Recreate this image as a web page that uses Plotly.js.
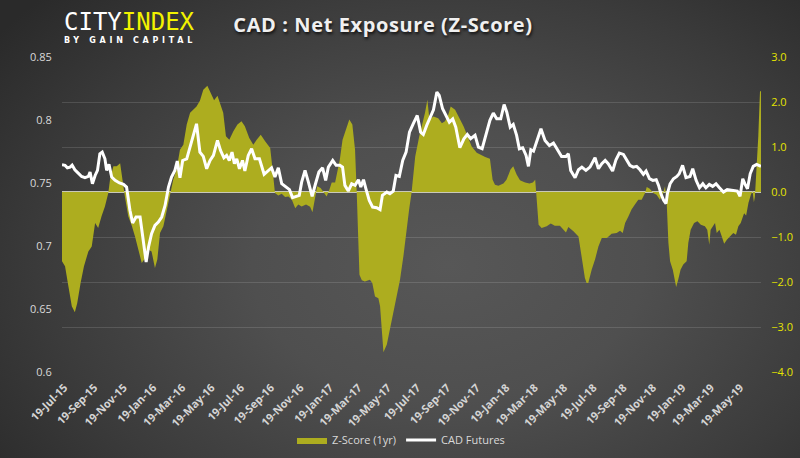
<!DOCTYPE html>
<html><head><meta charset="utf-8">
<script src="https://cdn.plot.ly/plotly-3.0.1.min.js"></script>
<style>
html,body{margin:0;padding:0;background:#2e2e2e;}
#chart{width:800px;height:458px;background:radial-gradient(ellipse 70% 85% at 56% 58%, #575757 0%, #4f4f4f 35%, #3b3b3b 72%, #2a2a2a 100%);}
</style></head><body><div id="chart"></div>
<script>
// Weekly COT data, positions given in weeks after the start date
const startDate = '2015-07-14';

const zWeek = [0,0.9,1.9,2.9,3.8,4.5,5.5,6.5,7.8,8.8,9.8,10.7,11.7,12.7,13.7,14.2,15.2,16.2,17.2,17.7,18.6,19.6,20.6,21.6,22.6,23.6,24.6,25.5,26.5,27.5,28.2,29.0,30.0,31.0,32.0,32.9,33.9,34.9,35.9,36.9,37.9,38.9,39.8,40.8,41.8,43.0,44.0,45.0,46.0,46.8,47.7,48.5,49.5,50.7,51.9,53.1,54.1,55.4,56.6,57.6,58.8,60.1,61.6,62.3,63.0,64.0,65.0,66.0,67.0,68.0,69.0,69.9,70.9,72.2,73.4,74.1,74.8,75.5,76.5,77.5,78.3,79.1,79.8,80.8,81.8,82.2,83.0,84.0,85.0,85.9,86.7,87.2,87.7,88.0,88.7,89.6,91.1,91.8,92.6,93.6,94.1,94.6,95.1,96.1,97.0,98.0,99.0,100.0,101.0,101.9,102.7,103.4,103.9,104.5,105.7,106.7,107.4,108.1,108.7,109.9,111.3,112.4,113.3,114.3,115.0,116.3,117.6,118.8,120.0,121.2,122.7,123.7,125.2,126.6,127.4,128.1,129.1,130.6,131.5,132.7,133.5,134.5,135.5,137.0,138.3,139.3,140.0,140.3,140.6,141.0,141.9,143.4,144.6,145.8,147.3,148.3,149.1,149.8,151.3,152.8,153.8,154.7,155.2,155.7,156.7,157.7,158.7,159.7,161.2,162.6,164.1,165.1,165.9,166.6,167.6,168.5,169.5,170.5,171.5,172.5,173.0,173.9,174.9,175.9,176.9,177.9,178.4,178.9,179.4,179.9,180.7,181.2,181.7,182.3,183.0,183.8,184.8,185.3,186.0,187.0,188.0,189.0,190.2,190.9,191.5,191.9,192.7,193.2,193.7,194.5,195.2,195.9,196.7,197.6,198.6,199.4,200.1,200.8,201.8,202.4,203.1,203.8,204.3,204.7,205.0,205.5,206.0,206.5,206.8];
const zScore = [-1.54,-1.65,-2.10,-2.54,-2.67,-2.47,-2.02,-1.65,-1.32,-1.21,-0.69,-0.80,-0.54,-0.32,-0.02,0.27,0.57,0.57,0.64,0.35,-0.10,-0.54,-0.74,-0.99,-1.28,-1.58,-1.47,-1.28,-1.32,-1.69,-1.50,-0.91,-0.76,-0.39,-0.02,0.27,0.50,0.94,1.05,1.50,1.76,1.83,1.90,2.03,2.27,2.36,2.20,2.04,2.14,1.98,1.76,1.24,1.16,1.35,1.50,1.57,1.46,1.20,1.05,1.16,1.27,1.13,0.98,0.50,-0.02,-0.08,-0.04,-0.11,-0.10,-0.17,-0.36,-0.28,-0.32,-0.28,-0.33,-0.45,-0.17,0.13,0.09,-0.02,-0.10,0.05,0.21,0.21,0.57,0.72,1.16,1.39,1.61,1.50,0.94,-0.02,-0.99,-1.84,-1.96,-1.99,-1.95,-2.02,-2.32,-2.36,-2.54,-3.06,-3.56,-3.39,-3.06,-2.69,-2.32,-1.95,-1.43,-0.84,-0.39,-0.02,0.35,0.79,1.24,1.53,1.76,2.05,1.61,1.68,1.64,1.53,1.57,1.72,1.90,1.83,1.64,1.46,1.24,1.01,0.87,0.83,0.78,0.74,0.27,0.16,0.14,0.19,0.27,0.50,0.57,0.39,0.26,0.21,0.19,0.21,0.27,-0.02,-0.39,-0.73,-0.80,-0.76,-0.70,-0.75,-0.75,-0.84,-0.90,-0.78,-0.87,-0.99,-1.43,-1.91,-2.02,-2.02,-1.73,-1.50,-1.21,-1.02,-1.02,-0.93,-0.91,-0.86,-0.91,-0.69,-0.54,-0.39,-0.28,-0.17,-0.17,-0.02,0.11,0.07,-0.02,-0.06,-0.17,-0.02,0.13,-0.24,-1.13,-1.54,-1.73,-1.95,-2.11,-1.95,-1.73,-1.61,-1.54,-1.13,-0.84,-0.69,-0.65,-0.73,-0.76,-0.84,-1.17,-0.84,-0.73,-0.69,-0.91,-0.84,-0.99,-1.15,-1.06,-0.99,-0.91,-0.95,-0.76,-0.69,-0.47,-0.52,-0.24,-0.06,0.02,-0.23,-0.10,0.57,1.24,2.24,2.24];

const cadWeek = [0,0.9,1.6,2.4,3.0,3.8,4.8,5.8,6.8,7.8,8.3,9.0,9.8,10.5,11.2,11.9,12.7,13.2,13.9,14.7,15.7,17.0,18.2,19.1,20.1,20.9,21.9,23.1,23.9,24.9,25.6,26.5,27.5,28.5,29.5,30.5,31.5,32.4,33.4,34.1,34.9,35.7,36.9,37.9,38.9,39.8,40.8,41.8,42.8,43.8,44.8,46.0,46.9,47.9,48.7,49.5,50.3,51.0,51.7,52.5,53.4,54.1,55.1,56.1,57.1,58.4,59.8,61.0,62.0,63.0,64.0,65.0,66.3,67.3,68.2,69.4,70.2,70.9,71.9,72.9,74.0,75.0,76.0,77.1,78.0,78.8,80.1,81.1,82.2,83.0,83.7,84.7,85.7,86.7,87.7,88.4,89.2,89.9,90.9,91.9,93.1,94.1,94.8,96.1,97.0,98.0,98.8,99.8,100.8,101.8,102.8,103.9,105.1,106.1,106.9,107.9,108.9,109.9,110.9,111.6,112.6,113.6,114.6,115.6,116.5,117.7,118.9,119.9,120.9,122.2,123.2,124.3,125.6,126.6,127.6,128.6,129.8,130.8,131.6,132.6,133.5,134.5,135.3,136.3,137.3,138.0,138.7,139.5,140.4,141.7,142.9,144.2,145.4,146.6,147.8,149.1,149.8,150.5,151.8,152.8,153.8,155.0,156.2,157.7,158.7,159.7,160.7,161.6,162.9,163.9,164.9,166.1,167.1,168.0,169.0,170.0,171.0,172.0,172.8,173.8,174.8,175.8,176.5,177.2,178.0,178.7,179.1,179.9,180.9,181.9,182.6,183.6,184.6,185.8,186.6,187.6,188.6,189.6,190.5,191.5,192.5,193.5,194.5,195.7,196.8,198.6,199.8,200.6,201.4,202.1,202.8,203.6,204.5,205.5,206.8];
const cadPrice = [0.7645,0.7640,0.7621,0.7626,0.7642,0.7605,0.7579,0.7552,0.7542,0.7552,0.7587,0.7494,0.7560,0.7600,0.7732,0.7745,0.7692,0.7600,0.7648,0.7547,0.7521,0.7500,0.7489,0.7468,0.7283,0.7183,0.7230,0.7230,0.7072,0.6873,0.6992,0.7097,0.7163,0.7190,0.7230,0.7322,0.7468,0.7547,0.7600,0.7674,0.7542,0.7679,0.7692,0.7785,0.7891,0.7970,0.7745,0.7711,0.7613,0.7679,0.7719,0.7838,0.7758,0.7700,0.7719,0.7679,0.7745,0.7653,0.7692,0.7613,0.7679,0.7595,0.7719,0.7772,0.7692,0.7692,0.7569,0.7600,0.7621,0.7547,0.7621,0.7494,0.7468,0.7447,0.7384,0.7394,0.7402,0.7507,0.7600,0.7507,0.7394,0.7494,0.7587,0.7621,0.7521,0.7626,0.7679,0.7640,0.7640,0.7626,0.7481,0.7436,0.7494,0.7481,0.7526,0.7468,0.7526,0.7455,0.7362,0.7309,0.7304,0.7288,0.7402,0.7428,0.7415,0.7436,0.7560,0.7552,0.7679,0.7745,0.7904,0.7970,0.8036,0.7904,0.7885,0.7957,0.8023,0.8081,0.8221,0.8195,0.8089,0.8036,0.7983,0.8009,0.7943,0.7780,0.7851,0.7885,0.7851,0.7878,0.7785,0.7772,0.7904,0.7997,0.8055,0.8009,0.8009,0.8123,0.8062,0.7943,0.7965,0.7878,0.7772,0.7780,0.7719,0.7632,0.7764,0.7753,0.7825,0.7930,0.7838,0.7798,0.7817,0.7758,0.7711,0.7711,0.7732,0.7600,0.7542,0.7605,0.7626,0.7600,0.7626,0.7700,0.7613,0.7653,0.7679,0.7653,0.7595,0.7685,0.7737,0.7727,0.7685,0.7640,0.7626,0.7632,0.7605,0.7569,0.7595,0.7534,0.7521,0.7526,0.7481,0.7415,0.7362,0.7336,0.7415,0.7494,0.7534,0.7552,0.7573,0.7640,0.7542,0.7552,0.7613,0.7521,0.7462,0.7494,0.7462,0.7489,0.7473,0.7494,0.7462,0.7428,0.7447,0.7441,0.7436,0.7394,0.7534,0.7489,0.7455,0.7573,0.7632,0.7648,0.7632];

const tickDates = ['2015-07-19','2015-09-19','2015-11-19','2016-01-19','2016-03-19','2016-05-19','2016-07-19','2016-09-19','2016-11-19','2017-01-19','2017-03-19','2017-05-19','2017-07-19','2017-09-19','2017-11-19','2018-01-19','2018-03-19','2018-05-19','2018-07-19','2018-09-19','2018-11-19','2019-01-19','2019-03-19','2019-05-19'];
const leftTicks = [0.6,0.65,0.7,0.75,0.8,0.85];
const rightTicks = [-4,-3,-2,-1,0,1,2,3];

const seriesNames = ['Z-Score (1yr)','CAD Futures'];

const t0 = Date.parse(startDate);
function weekToDate(w){
  const d = new Date(t0 + w*7*86400000);
  return d.toISOString().slice(0,19).replace('T',' ');
}
const zDates = zWeek.map(weekToDate);
const cadDates = cadWeek.map(weekToDate);

const traces = [
  {x: zDates, y: zScore, name: seriesNames[0], type:'scatter', mode:'lines',
   fill:'tozeroy', fillcolor:'#adad1f', line:{width:0, color:'#adad1f'}, yaxis:'y', hoverinfo:'skip'},
  {x: cadDates, y: cadPrice, name: seriesNames[1], type:'scatter', mode:'lines',
   line:{width:3, color:'#ffffff'}, yaxis:'y2', hoverinfo:'skip'}
];

const layout = {
  width:800, height:458,
  margin:{l:62, r:39, t:57, b:86},
  paper_bgcolor:'rgba(0,0,0,0)', plot_bgcolor:'rgba(0,0,0,0)',
  font:{family:'"Open Sans", sans-serif', color:'#d9d9d9', size:11},
  title:{text:'<span style="letter-spacing:0.6px">CAD : Net Exposure (Z-Score)</span>', xref:'container', x:383/800, xanchor:'center',
         yref:'container', y:1-25/458, yanchor:'middle',
         font:{family:'"Open Sans", sans-serif', size:20, weight:700, color:'#f0f0f0', shadow:'1px 2px 3px rgba(0,0,0,0.75)'}},
  xaxis:{type:'date', range:[weekToDate(0), weekToDate(zWeek[zWeek.length-1])],
         tickmode:'array', tickvals:tickDates, tickformat:'%d-%b-%y', tickangle:-45,
         tickfont:{size:11, weight:700, color:'#d4d4d4'}, showgrid:false, zeroline:false, showline:false,
         ticks:'outside', ticklen:4, tickcolor:'rgba(0,0,0,0)'},
  yaxis:{range:[-4,3], side:'right', tickmode:'array', tickvals:rightTicks, tickformat:'.1f',
         tickfont:{color:'#e4e400', size:11}, showgrid:true, gridcolor:'rgba(255,255,255,0.13)', gridwidth:1,
         zeroline:true, zerolinecolor:'#c9c9b8', zerolinewidth:1.5, showline:false,
         ticks:'outside', ticklen:7, tickcolor:'rgba(0,0,0,0)'},
  yaxis2:{range:[0.6,0.85], overlaying:'y', side:'left', tickmode:'array', tickvals:leftTicks,
          showgrid:false, zeroline:false, showline:false, tickfont:{color:'#d9d9d9', size:11},
          ticks:'outside', ticklen:7, tickcolor:'rgba(0,0,0,0)'},
  showlegend:true,
  legend:{orientation:'h', xref:'container', x:401/800, xanchor:'center', yref:'container', y:1-440/458, yanchor:'middle',
          font:{size:11, color:'#d9d9d9'}, bgcolor:'rgba(0,0,0,0)', itemwidth:30},
  annotations:[
    {xref:'paper', yref:'paper', x:0, y:1+(57-22.5)/315, xanchor:'left', yanchor:'middle', showarrow:false,
     text:'<span style="color:#ffffff">CITY</span><span style="color:#f2f200">INDEX</span>',
     font:{family:'"DejaVu Sans Mono", monospace', size:24, color:'#ffffff'}},
    {xref:'paper', yref:'paper', x:0, y:1+(57-40.5)/315, xanchor:'left', yanchor:'middle', showarrow:false,
     text:'<span style="letter-spacing:3.7px">BY GAIN CAPITAL</span>',
     font:{family:'"DejaVu Sans", sans-serif', size:8, weight:700, color:'#ffffff'}}
  ]
};

Plotly.newPlot('chart', traces, layout, {displayModeBar:false, staticPlot:true});
</script></body></html>
